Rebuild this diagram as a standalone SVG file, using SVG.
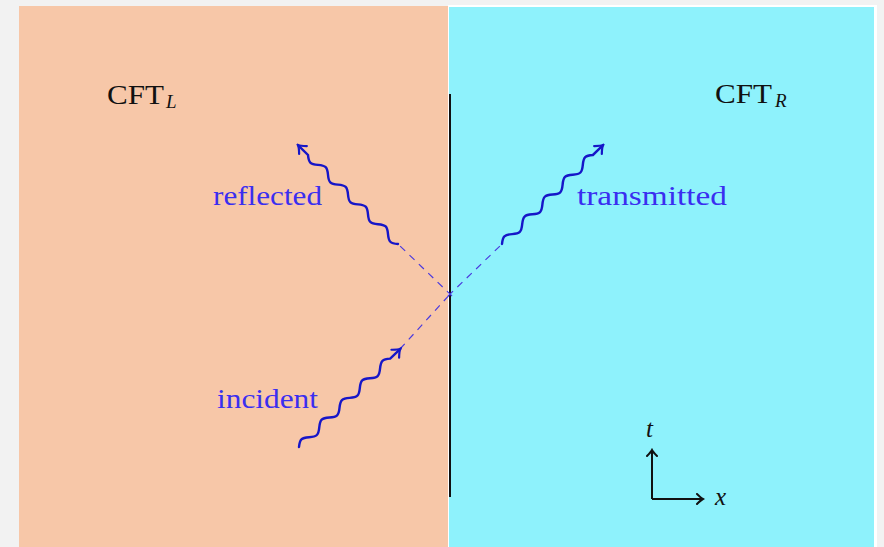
<svg xmlns="http://www.w3.org/2000/svg" width="884" height="547" viewBox="0 0 884 547">
<defs>
<style>
.wave{fill:none;stroke:#1616c8;stroke-width:2.4;stroke-linecap:round;marker-end:url(#arr)}
.dash{fill:none;stroke:#4a3adf;stroke-width:1.2;stroke-dasharray:7 6}
.lbl{font-family:"Liberation Serif","DejaVu Serif",serif;font-size:27px;fill:#3a2ef0}
.cft{font-family:"Liberation Serif","DejaVu Serif",serif;font-size:27px;fill:#111}
.sub{font-family:"Liberation Serif","DejaVu Serif",serif;font-size:19px;font-style:italic;fill:#111}
.ax{fill:none;stroke:#111;stroke-width:2;marker-end:url(#arrk)}
.axl{font-family:"Liberation Serif","DejaVu Serif",serif;font-size:25px;font-style:italic;fill:#111}
</style>
<marker id="arr" viewBox="-9 -7 11 14" markerWidth="11" markerHeight="14" refX="0" refY="0" orient="auto" markerUnits="userSpaceOnUse">
<path d="M-7,-5.5 Q-2.5,-1 0,0 Q-2.5,1 -7,5.5" fill="none" stroke="#1616c8" stroke-width="2.2" stroke-linecap="round"/>
</marker>
<marker id="arrk" viewBox="-8 -6 10 12" markerWidth="10" markerHeight="12" refX="0" refY="0" orient="auto" markerUnits="userSpaceOnUse">
<path d="M-6,-5 Q-2,-1 0,0 Q-2,1 -6,5" fill="none" stroke="#111" stroke-width="2" stroke-linecap="round"/>
</marker>
<path id="snake" d="M0,0 c2.28,-1.95 4.47,-3.8 7,-3.8 c2.53,0 4.72,1.85 7,3.8 c2.28,1.95 4.47,3.8 7,3.8 c2.53,0 4.72,-1.85 7,-3.8 c2.28,-1.95 4.47,-3.8 7,-3.8 c2.53,0 4.72,1.85 7,3.8 c2.28,1.95 4.47,3.8 7,3.8 c2.53,0 4.72,-1.85 7,-3.8 c2.28,-1.95 4.47,-3.8 7,-3.8 c2.53,0 4.72,1.85 7,3.8 c2.28,1.95 4.47,3.8 7,3.8 c2.53,0 4.72,-1.85 7,-3.8 c2.28,-1.95 4.47,-3.8 7,-3.8 c2.53,0 4.72,1.85 7,3.8 c2.28,1.95 4.47,3.8 7,3.8 c2.53,0 4.72,-1.85 7,-3.8 c2.28,-1.95 4.47,-3.8 7,-3.8 c2.53,0 4.72,1.85 7,3.8 L140,0"/>
</defs>
<rect x="0" y="0" width="884" height="547" fill="#f2f2f2"/>
<g id="regionL"><rect x="19" y="6" width="431" height="541" fill="#f7c7a8"/></g>
<g id="regionR"><rect x="448" y="5" width="429" height="542" fill="#ffffff"/><rect x="449" y="7" width="425" height="540" fill="#8ef2fc"/></g>
<g id="wall"><line x1="450" y1="94" x2="450" y2="497" stroke="#111" stroke-width="2"/></g>
<g id="connectors">
<line class="dash" x1="400" y1="349" x2="452" y2="292"/>
<line class="dash" x1="452" y1="296" x2="398" y2="244"/>
<line class="dash" x1="448" y1="296" x2="502" y2="244"/>
</g>
<g id="incident">
<use href="#snake" class="wave" transform="translate(299,447) rotate(-44.1) scale(1.008,1)"/>
<text class="lbl" x="217" y="408" textLength="101" lengthAdjust="spacingAndGlyphs">incident</text>
</g>
<g id="reflected">
<use href="#snake" class="wave" transform="translate(398,244) rotate(-135.3) scale(1.005,1)"/>
<text class="lbl" x="213" y="205" textLength="109" lengthAdjust="spacingAndGlyphs">reflected</text>
</g>
<g id="transmitted">
<use href="#snake" class="wave" transform="translate(502,244) rotate(-44.4) scale(1.01,1)"/>
<text class="lbl" x="577" y="205" textLength="150" lengthAdjust="spacingAndGlyphs">transmitted</text>
</g>
<g id="cftL">
<text class="cft" x="107" y="104" textLength="57" lengthAdjust="spacingAndGlyphs">CFT</text>
<text class="sub" x="166" y="108">L</text>
</g>
<g id="cftR">
<text class="cft" x="715" y="103" textLength="57" lengthAdjust="spacingAndGlyphs">CFT</text>
<text class="sub" x="775" y="107">R</text>
</g>
<g id="axes">
<line class="ax" x1="652" y1="499" x2="652" y2="450"/>
<line class="ax" x1="652" y1="499" x2="703" y2="499"/>
<text class="axl" x="646" y="437">t</text>
<text class="axl" x="715" y="505">x</text>
</g>
</svg>
